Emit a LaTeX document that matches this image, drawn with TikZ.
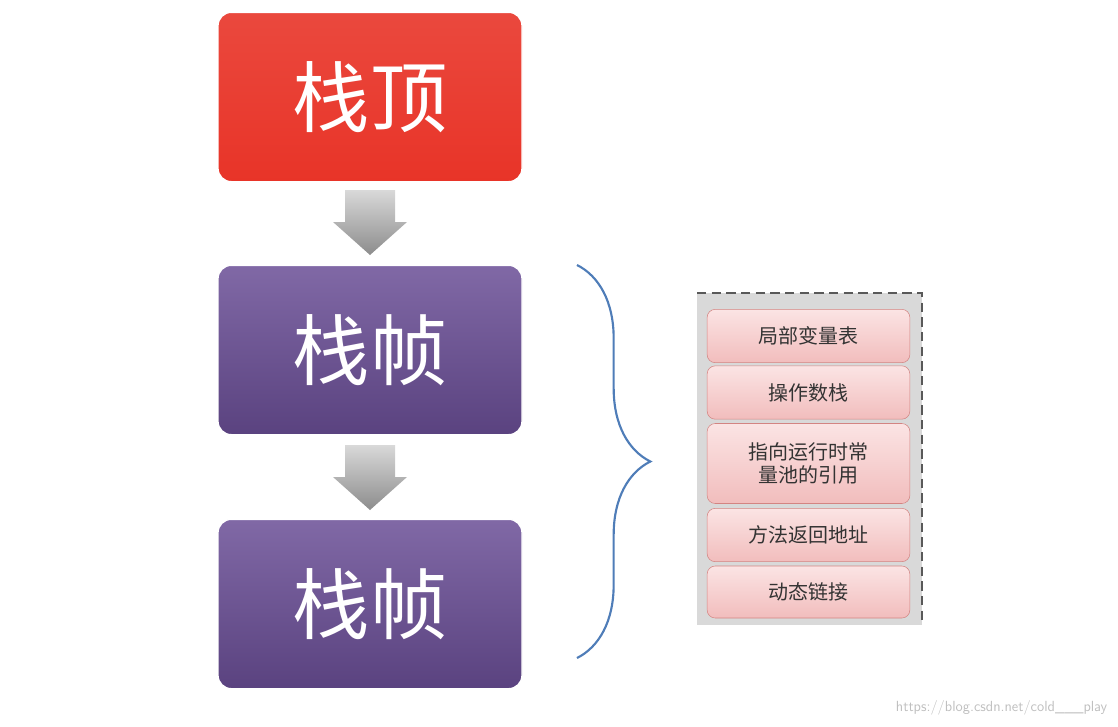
\documentclass[tikz,border=0pt]{standalone}
\usepackage{fontspec}
\newfontfamily\cjk{Noto Sans CJK SC}
\usetikzlibrary{decorations.pathreplacing}
\definecolor{topred}{HTML}{E83428}
\definecolor{purp}{HTML}{6A4E96}
\definecolor{pinkf}{HTML}{F7C9C9}
\definecolor{pinkd}{HTML}{C0504D}
\definecolor{bluebr}{HTML}{4F7DB8}
\tikzset{
  bigbox/.style={rounded corners=10pt, minimum width=228pt, minimum height=127pt, draw=white, line width=1pt, font=\cjk\fontsize{58}{60}\selectfont, text=white, drop shadow/.try},
  smallbox/.style={rounded corners=6pt, draw=pinkd!70, minimum width=152pt, text=black!80, font=\cjk\fontsize{15}{17}\selectfont, align=center, top color=pinkf!50, bottom color=pinkf!90!pinkd},
}
\begin{document}
\begin{tikzpicture}[x=0.75pt,y=-0.75pt]
\useasboundingbox (0,0) rectangle (1118,726);
\node[bigbox, top color=topred!90, bottom color=topred] (top) at (370,97) {栈顶};
\node[bigbox, top color=purp!85!white, bottom color=purp!85!black] (f1) at (370,350) {栈帧};
\node[bigbox, top color=purp!85!white, bottom color=purp!85!black] (f2) at (370,604) {栈帧};
\foreach \y/\n in {190/a1,445/a2}{
  \path[top color=black!15, bottom color=black!45]
    (345,\y) -- (395,\y) -- (395,\y+32) -- (407,\y+32) -- (370,\y+65) -- (333,\y+32) -- (345,\y+32) -- cycle;
}
\coordinate (b1) at (577,658);
\coordinate (b2) at (577,265);
\draw[bluebr, line width=1.6pt, decorate, decoration={brace, amplitude=55pt, aspect=0.5}] (b2) -- (b1);
\fill[black!15] (697,293) rectangle (922,625);
\draw[black!65, dashed, line width=1.4pt, dash pattern=on 7pt off 4pt] (697,293) -- (922,293) -- (922,625);
\node[smallbox, minimum height=40pt] (s1) at (808.5,336) {局部变量表};
\node[smallbox, minimum height=40pt] (s2) at (808.5,392.5) {操作数栈};
\node[smallbox, minimum height=60pt] (s3) at (808.5,463.5) {指向运行时常\\量池的引用};
\node[smallbox, minimum height=40pt] (s4) at (808.5,535) {方法返回地址};
\node[smallbox, minimum height=39pt] (s5) at (808.5,592) {动态链接};
\node[text=black!25, font=\sffamily\fontsize{11}{12}\selectfont, anchor=east] (wm) at (1112,708) {https://blog.csdn.net/cold\_\_\_play};
\end{tikzpicture}
\end{document}
